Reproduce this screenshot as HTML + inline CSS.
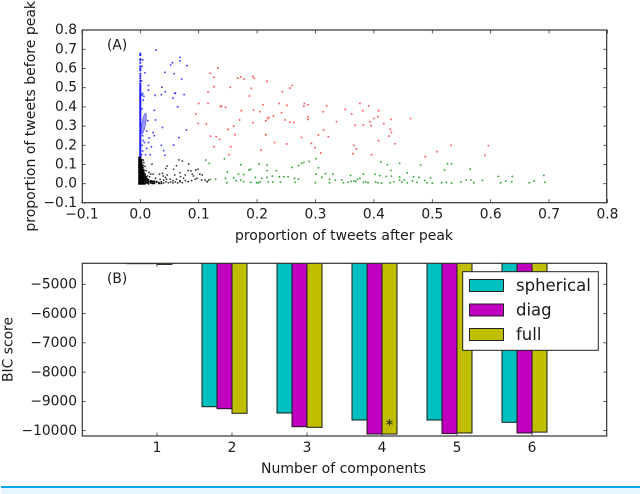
<!DOCTYPE html>
<html>
<head>
<meta charset="utf-8">
<title>Tweet proportions and BIC scores</title>
<style>
html,body{margin:0;padding:0;background:#fff;width:640px;height:494px;overflow:hidden}
svg{display:block;position:absolute;left:0;top:0;filter:blur(0.35px)}
text{font-family:"DejaVu Sans","Liberation Sans",sans-serif;fill:#1a1a1a}
.tick{font-size:13.8px}
.lab{font-size:14px}
.leg{font-size:16.5px}
#strip-line{position:absolute;left:1px;top:486px;width:639px;height:2px;background:#0aa5f5}
#strip-fill{position:absolute;left:1px;top:488px;width:639px;height:6px;background:#e6f6ff}
</style>
</head>
<body>
<svg id="fig" width="640" height="494" viewBox="0 0 640 494" xmlns="http://www.w3.org/2000/svg">
  <defs>
    <clipPath id="clipA"><rect x="82" y="30" width="525" height="173"/></clipPath>
    <clipPath id="clipB"><rect x="82" y="263.5" width="525" height="172.5"/></clipPath>
  </defs>
  <g id="marksA" clip-path="url(#clipA)"></g>
  <g id="marksB" clip-path="url(#clipB)"></g>
  <g id="axes"></g>
  <text x="107" y="49.5" class="tick">(A)</text>
  <text x="107" y="283" class="tick">(B)</text>
  <text x="344" y="240" class="lab" text-anchor="middle" textLength="218" lengthAdjust="spacingAndGlyphs">proportion of tweets after peak</text>
  <text transform="translate(35,116.3) rotate(-90)" class="lab" text-anchor="middle" textLength="230.7" lengthAdjust="spacingAndGlyphs">proportion of tweets before peak</text>
  <text x="343.5" y="473" class="lab" text-anchor="middle" textLength="165" lengthAdjust="spacingAndGlyphs">Number of components</text>
  <text transform="translate(12.5,349.5) rotate(-90)" class="lab" text-anchor="middle" textLength="65" lengthAdjust="spacingAndGlyphs">BIC score</text>
  <text x="389.5" y="430" font-size="15" text-anchor="middle">*</text>
  <g>
    <rect x="462.7" y="271.7" width="135.6" height="78.6" fill="#fff" stroke="#222" stroke-width="1"/>
    <rect x="469.5" y="279.5" width="34" height="12" fill="#00bfbf" stroke="#222" stroke-width="1"/>
    <rect x="469.5" y="304" width="34" height="12" fill="#bf00bf" stroke="#222" stroke-width="1"/>
    <rect x="469.5" y="328.5" width="34" height="12" fill="#bfbf00" stroke="#222" stroke-width="1"/>
    <text x="516" y="291" class="leg">spherical</text>
    <text x="516" y="315.5" class="leg">diag</text>
    <text x="516" y="340" class="leg">full</text>
  </g>
</svg>
<div id="strip-line"></div>
<div id="strip-fill"></div>
<script>
const xTicksA = [-0.1,0,0.1,0.2,0.3,0.4,0.5,0.6,0.7,0.8];
const yTicksA = [-0.1,0,0.1,0.2,0.3,0.4,0.5,0.6,0.7,0.8];
const xTickLabelsA = ["\u22120.1","0.0","0.1","0.2","0.3","0.4","0.5","0.6","0.7","0.8"];
const yTickLabelsA = ["\u22120.1","0.0","0.1","0.2","0.3","0.4","0.5","0.6","0.7","0.8"];
const components = [1,2,3,4,5,6];
const yTicksB = [-5000,-6000,-7000,-8000,-9000,-10000];
const yTickLabelsB = ["\u22125000","\u22126000","\u22127000","\u22128000","\u22129000","\u221210000"];
const bicSpherical = [-4295,-9182,-9397,-9636,-9636,-9715];
const bicDiag = [-4295,-9250,-9865,-10115,-10100,-10080];
const bicFull = [-4320,-9407,-9886,-10115,-10080,-10050];
const redPoints = [[.12,.575],[.133,.602],[.126,.554],[.126,.505],[.116,.477],[.1,.418],[.116,.418],[.095,.363],[.099,.314],[.113,.311],[.137,.403],[.139,.403],[.146,.398],[.12,.248],[.13,.245],[.136,.231],[.126,.193],[.152,.151],[.155,.193],[.15,.283],[.16,.3],[.162,.255],[.154,.502],[.167,.55],[.172,.556],[.178,.545],[.173,.38],[.17,.332],[.187,.457],[.19,.497],[.193,.559],[.195,.549],[.194,.384],[.193,.318],[.205,.375],[.21,.411],[.207,.175],[.215,.255],[.215,.328],[.217,.533],[.218,.34],[.22,.345],[.228,.352],[.23,.215],[.238,.418],[.242,.37],[.243,.479],[.248,.332],[.251,.408],[.251,.207],[.256,.321],[.256,.498],[.26,.512],[.263,.319],[.276,.241],[.28,.404],[.281,.418],[.287,.411],[.287,.349],[.287,.335],[.293,.21],[.299,.188],[.309,.16],[.305,.254],[.314,.28],[.322,.245],[.313,.375],[.319,.405],[.336,.323],[.351,.387],[.362,.363],[.368,.304],[.376,.418],[.381,.38],[.391,.405],[.382,.306],[.393,.323],[.395,.302],[.4,.34],[.408,.38],[.407,.349],[.417,.313],[.429,.335],[.428,.283],[.43,.267],[.426,.248],[.436,.208],[.408,.224],[.366,.2],[.37,.181],[.364,.156],[.396,.151],[.463,.34],[.488,.141],[.508,.167],[.532,.2],[.59,.148],[.596,.198]];
const greenPoints = [[.112,.123],[.118,.106],[.115,.01],[.12,.023],[.129,.023],[.144,.13],[.149,.061],[.146,.028],[.148,.005],[.16,.031],[.164,.016],[.168,.05],[.172,.099],[.177,.047],[.186,.071],[.189,.075],[.172,.019],[.177,.01],[.189,.007],[.197,.033],[.199,.005],[.202,.005],[.203,.102],[.205,.009],[.208,.028],[.217,.097],[.217,.068],[.217,.033],[.219,.009],[.226,.04],[.227,.009],[.233,.068],[.238,.036],[.24,.009],[.246,.036],[.253,.036],[.26,.085],[.264,.028],[.265,.007],[.271,.094],[.271,.024],[.276,.106],[.28,.111],[.289,.116],[.301,.13],[.301,.05],[.3,.005],[.305,.083],[.317,.052],[.311,.033],[.33,.05],[.324,.023],[.324,.005],[.334,.019],[.345,.019],[.348,.005],[.356,.007],[.36,.043],[.361,.012],[.366,.014],[.369,.012],[.372,.023],[.376,.028],[.382,.05],[.382,.007],[.386,.01],[.39,.005],[.402,.049],[.403,.009],[.41,.042],[.407,.005],[.412,.113],[.413,.003],[.421,.038],[.423,.099],[.429,.069],[.43,.04],[.428,.005],[.434,.01],[.444,.106],[.444,.035],[.444,.019],[.448,.009],[.452,.019],[.457,.056],[.457,.005],[.468,.036],[.466,.014],[.474,.007],[.477,.033],[.48,.097],[.487,.017],[.491,.005],[.497,.03],[.5,.003],[.516,.005],[.521,.071],[.524,.007],[.526,.104],[.533,.104],[.533,.003],[.549,.01],[.558,.019],[.565,.076],[.566,.019],[.571,.005],[.586,.017],[.613,.038],[.617,.005],[.626,.014],[.636,.01],[.637,.038],[.666,.005],[.674,.014],[.691,.043],[.693,.007]];
const bluePoints = [[.027,.696],[.008,.578],[.042,.58],[.052,.618],[.055,.63],[.068,.658],[.068,.64],[.08,.615],[.058,.573],[.071,.545],[.014,.512],[.014,.488],[.037,.503],[.043,.479],[.025,.46],[.036,.464],[.059,.47],[.06,.472],[.056,.446],[.075,.464],[.064,.401],[.003,.462],[.005,.436],[.024,.382],[.026,.332],[.013,.328],[.038,.293],[.079,.28],[.011,.274],[.022,.266],[.024,.25],[.066,.24],[.015,.238],[.007,.214],[.014,.214],[.019,.193],[.011,.184],[.036,.2],[.04,.172],[.057,.201],[.042,.148],[.009,.151],[.017,.151],[.004,.645],[.003,.61],[.002,.535],[.004,.47],[.006,.455],[.003,.39],[.004,.25],[.005,.225],[.003,.2],[.004,.17],[.002,.15]];
const blueColumnY = [.677,.67,.648,.645,.63,.612,.6,.59,.572,.56,.548,.535,.522,.512,.505,.498,.49,.483,.476,.47,.463,.456,.45,.443,.436,.43,.423,.416,.41,.403,.396,.39,.383,.376,.37,.363,.356,.35,.343,.336,.33,.323,.316,.31,.303,.296,.29,.283,.276,.27,.263,.256,.25,.243,.236,.23,.223,.216,.21,.203,.196,.19,.183,.176,.17,.163,.156,.15,.143,.137];
const blackPoints = [[.005,.123],[.006,.11],[.008,.09],[.006,.072],[.02,.102],[.01,.068],[.015,.058],[.018,.05],[.022,.05],[.012,.04],[.016,.036],[.026,.028],[.033,.05],[.038,.054],[.039,.04],[.044,.08],[.046,.092],[.043,.033],[.046,.045],[.057,.075],[.059,.045],[.062,.094],[.066,.124],[.072,.118],[.068,.057],[.069,.037],[.074,.028],[.077,.045],[.083,.103],[.082,.068],[.087,.066],[.089,.05],[.095,.071],[.099,.075],[.102,.05],[.106,.045],[.091,.04],[.094,.023],[.097,.028],[.105,.019],[.111,.019],[.114,.011],[.117,.019],[.034,.023],[.04,.019],[.045,.023],[.051,.023],[.056,.016],[.062,.023],[.068,.016],[.077,.016],[.082,.011],[.088,.016],[.02,.012],[.024,.006],[.028,.012],[.032,.006],[.036,.01],[.04,.004],[.044,.01],[.048,.005],[.052,.009],[.056,.004],[.06,.009],[.064,.004],[.068,.01],[.072,.005],[.014,.005],[.017,.012],[.02,.004]];
const blackCornerColumnX = [-.002,0,.002,.004];
const blackCornerColumnTop = [.135,.135,.13,.1];
const blackCornerColumnY = [.135,.125,.115,.105,.095,.085,.075,.065,.055,.045,.035,.025,.015,.005,0];
const blackFillPoints = [[.006,.07],[.006,.06],[.006,.05],[.006,.04],[.006,.03],[.006,.02],[.006,.01],[.006,0],[.008,.05],[.008,.04],[.008,.03],[.008,.02],[.008,.01],[.008,0],[.01,.035],[.01,.025],[.01,.015],[.01,.005],[.012,.025],[.012,.015],[.012,.005],[.014,.02],[.014,.01],[.014,0],[.018,.015],[.018,.005],[.021,.012],[.021,.002],[.024,.012],[.024,.002],[.028,.008],[.032,.002],[.036,.002]];

const NS = "http://www.w3.org/2000/svg";
const xA = v => 140.3 + v * 584;
const yA = v => 183.7 - v * 192;
const xB = v => 82 + v * 75;
const yB = v => 284.3 + (-5000 - v) * 0.02927;
const marksA = document.getElementById("marksA");
const marksB = document.getElementById("marksB");
const axes = document.getElementById("axes");

function dot(x, y, color, r, op) {
  const c = document.createElementNS(NS, "circle");
  c.setAttribute("cx", xA(x));
  c.setAttribute("cy", yA(y));
  c.setAttribute("r", r);
  c.setAttribute("fill", color);
  c.setAttribute("fill-opacity", op);
  
  
  marksA.appendChild(c);
}
greenPoints.forEach(p => dot(p[0], p[1], "#008a00", .95, .75));
redPoints.forEach(p => dot(p[0], p[1], "#ff2020", .95, .75));
bluePoints.forEach(p => dot(p[0], p[1], "#1a1aff", .95, .8));
blueColumnY.forEach(y => dot(0, y, "#1010ff", 1.1, .9));
blackPoints.forEach(p => dot(p[0], p[1], "#000", .9, .8));
blackCornerColumnX.forEach((x, i) => {
  blackCornerColumnY.forEach(y => {
    if (y <= blackCornerColumnTop[i]) dot(x, y, "#000", 1.1, 1);
  });
});
blackFillPoints.forEach(p => dot(p[0], p[1], "#000", 1, 1));

const blob = document.createElementNS(NS, "ellipse");
blob.setAttribute("cx", xA(0.006));
blob.setAttribute("cy", yA(0.314));
blob.setAttribute("rx", 1.9);
blob.setAttribute("ry", 10.5);
blob.setAttribute("fill", "#6a6af0");
blob.setAttribute("fill-opacity", ".7");
blob.setAttribute("stroke", "#3a3aff");
blob.setAttribute("stroke-width", ".5");
blob.setAttribute("transform", "rotate(10 " + xA(0.006) + " " + yA(0.314) + ")");


marksA.appendChild(blob);

function bar(cx, val, offset, color) {
  const left = xB(cx + offset);
  const w = xB(cx + offset + 0.2) - left;
  const bottom = yB(val);
  const r = document.createElementNS(NS, "rect");
  r.setAttribute("x", left);
  r.setAttribute("y", 250);
  r.setAttribute("width", w);
  r.setAttribute("height", Math.max(0, bottom - 250));
  r.setAttribute("fill", color);
  r.setAttribute("stroke", "#1a1a1a");
  r.setAttribute("stroke-width", "1");
  
  
  marksB.appendChild(r);
}
components.forEach((k, i) => {
  bar(k, bicSpherical[i], -0.4, "#00bfbf");
  bar(k, bicDiag[i], -0.2, "#bf00bf");
  bar(k, bicFull[i], 0, "#bfbf00");
});

function line(x1, y1, x2, y2, w, name) {
  const l = document.createElementNS(NS, "line");
  l.setAttribute("x1", x1);
  l.setAttribute("y1", y1);
  l.setAttribute("x2", x2);
  l.setAttribute("y2", y2);
  l.setAttribute("stroke", "#333");
  l.setAttribute("stroke-width", w);
  
  
  axes.appendChild(l);
}
function label(x, y, s, anchor, name) {
  const t = document.createElementNS(NS, "text");
  t.setAttribute("x", x);
  t.setAttribute("y", y);
  t.setAttribute("class", "tick");
  t.setAttribute("text-anchor", anchor);
  
  
  t.textContent = s;
  axes.appendChild(t);
}
function frame(l, t, r, b, name) {
  const f = document.createElementNS(NS, "rect");
  f.setAttribute("x", l);
  f.setAttribute("y", t);
  f.setAttribute("width", r - l);
  f.setAttribute("height", b - t);
  f.setAttribute("fill", "none");
  f.setAttribute("stroke", "#333");
  f.setAttribute("stroke-width", "1.2");
  
  
  axes.appendChild(f);
}
const TOPA = 30, BOTA = 202.7, LEFT = 82.3, RIGHT = 606.7, TOPB = 263.3, BOTB = 436;
frame(LEFT, TOPA, RIGHT, BOTA, "axes-frame-a");
frame(LEFT, TOPB, RIGHT, BOTB, "axes-frame-b");
xTicksA.forEach((v, i) => {
  const x = xA(v);
  line(x, BOTA, x, BOTA - 3.5, .8, "x-tick-a");
  line(x, TOPA, x, TOPA + 3.5, .8, "x-tick-a-top");
  label(x, 218.3, xTickLabelsA[i], "middle", "x-tick-label-a");
});
yTicksA.forEach((v, i) => {
  const y = yA(v);
  line(LEFT, y, LEFT + 3.5, y, .8, "y-tick-a");
  line(RIGHT, y, RIGHT - 3.5, y, .8, "y-tick-a-right");
  label(77, y + 4, yTickLabelsA[i], "end", "y-tick-label-a");
});
components.forEach(k => {
  const x = xB(k);
  line(x, BOTB, x, BOTB - 3.5, .8, "x-tick-b");
  line(x, TOPB, x, TOPB + 3.5, .8, "x-tick-b-top");
  label(x, 452, String(k), "middle", "x-tick-label-b");
});
yTicksB.forEach((v, i) => {
  const y = yB(v);
  line(LEFT, y, LEFT + 3.5, y, .8, "y-tick-b");
  line(RIGHT, y, RIGHT - 3.5, y, .8, "y-tick-b-right");
  label(77, y + 4.2, yTickLabelsB[i], "end", "y-tick-label-b");
});
</script>
</body>
</html>
